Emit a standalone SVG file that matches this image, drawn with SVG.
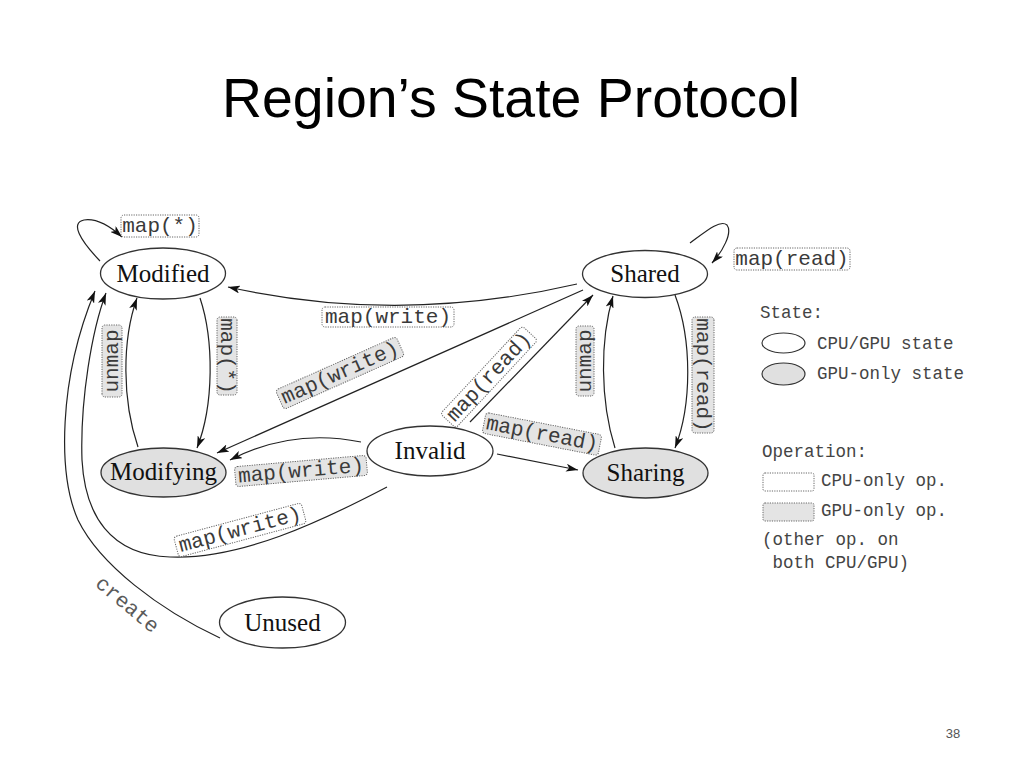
<svg xmlns="http://www.w3.org/2000/svg" width="1024" height="768" viewBox="0 0 1024 768">
<defs>
<style>
.node ellipse{stroke:#333;stroke-width:1.3}
.cpu{fill:#ffffff}
.gpu{fill:#e0e0e0}
.ntext{font-family:"Liberation Serif","Times New Roman",serif;font-size:25px;fill:#111;text-anchor:middle}
.edge{fill:none;stroke:#222;stroke-width:1.2;marker-end:url(#ah)}
.lbl rect{stroke:#666;stroke-width:1;stroke-dasharray:1.2,1.2}
.lw{fill:#ffffff}
.lg{fill:#e4e4e4}
.ltext{font-family:"Liberation Mono","Courier New",monospace;font-size:21px;fill:#3a3a3a;text-anchor:middle}
.ctext{font-family:"Liberation Mono","Courier New",monospace;font-size:21px;fill:#5a5a5a;text-anchor:middle}
.leg{font-family:"Liberation Mono","Courier New",monospace;font-size:17.5px;fill:#444}
</style>
<marker id="ah" viewBox="0 0 12 8" refX="12" refY="4" markerWidth="12" markerHeight="8" orient="auto" markerUnits="userSpaceOnUse">
<path d="M0,0 L12,4 L0,8 L3,4 z" fill="#111"/>
</marker>
</defs>
<rect width="1024" height="768" fill="#ffffff"/>
<text x="511" y="117" font-family="Liberation Sans, Arial, sans-serif" font-size="56" fill="#000" text-anchor="middle" textLength="578" lengthAdjust="spacingAndGlyphs">Region’s State Protocol</text>
<text x="953" y="738" font-family="Liberation Sans, Arial, sans-serif" font-size="13" fill="#555" text-anchor="middle">38</text>

<g id="connectors">
<path class="edge" d="M100,261 C80,240 70,223 84,220 C97,218 112,228 122,237"/>
<path class="edge" d="M690,243 C705,232 720,219 727,225 C733,233 722,252 712,263"/>
<path class="edge" d="M577,284 Q400,325 228,287"/>
<path class="edge" d="M583,290 L217,453"/>
<path class="edge" d="M470,422 L593,295"/>
<path class="edge" d="M361,442 Q292,428 230,460"/>
<path class="edge" d="M497,454 L578,470"/>
<path class="edge" d="M675,295 C692,340 692,405 675,448"/>
<path class="edge" d="M615,448 C600,400 600,340 613,296"/>
<path class="edge" d="M200,298 C214,340 214,405 197,448"/>
<path class="edge" d="M138,447 C122,400 122,340 137,298"/>
<path class="edge" d="M387,487 C320,522 240,560 170,557 C110,555 85,515 82,460 C80,400 92,330 106,293"/>
<path class="edge" d="M220,638 C160,610 100,565 78,520 C58,475 58,380 95,291"/>
</g>

<g id="labels">
<g class="lbl" transform="translate(160,226)"><rect class="lw" x="-39" y="-11" width="78" height="22" rx="3"/><text class="ltext" y="6">map(*)</text></g>
<g class="lbl" transform="translate(388,317)"><rect class="lw" x="-66" y="-10" width="132" height="20" rx="3"/><text class="ltext" y="6">map(write)</text></g>
<g class="lbl" transform="translate(340,373) rotate(-24)"><rect class="lg" x="-66" y="-10.5" width="132" height="21" rx="3"/><text class="ltext" y="6">map(write)</text></g>
<g class="lbl" transform="translate(489,377) rotate(-47)"><rect class="lw" x="-60" y="-10.5" width="120" height="21" rx="3"/><text class="ltext" y="6">map(read)</text></g>
<g class="lbl" transform="translate(301,471) rotate(-5)"><rect class="lg" x="-66" y="-10" width="132" height="20" rx="3"/><text class="ltext" y="6">map(write)</text></g>
<g class="lbl" transform="translate(542,434) rotate(11)"><rect class="lg" x="-59" y="-10.5" width="118" height="21" rx="3"/><text class="ltext" y="6">map(read)</text></g>
<g class="lbl" transform="translate(792,259)"><rect class="lw" x="-58" y="-11" width="116" height="22" rx="3"/><text class="ltext" y="6">map(read)</text></g>
<g class="lbl" transform="translate(585,361) rotate(-90)"><rect class="lg" x="-35" y="-9" width="70" height="18" rx="3"/><text class="ltext" y="6">unmap</text></g>
<g class="lbl" transform="translate(703,375) rotate(90)"><rect class="lg" x="-58" y="-11" width="116" height="22" rx="3"/><text class="ltext" y="6">map(read)</text></g>
<g class="lbl" transform="translate(227,356) rotate(90)"><rect class="lg" x="-39" y="-10" width="78" height="20" rx="3"/><text class="ltext" y="6">map(*)</text></g>
<g class="lbl" transform="translate(112,361) rotate(-90)"><rect class="lg" x="-36" y="-10" width="72" height="20" rx="3"/><text class="ltext" y="6">unmap</text></g>
<g class="lbl" transform="translate(240,530) rotate(-15)"><rect class="lw" x="-66" y="-10.5" width="132" height="21" rx="3"/><text class="ltext" y="6">map(write)</text></g>
<g transform="translate(127,605) rotate(40)"><text class="ctext" y="6">create</text></g>
</g>

<g id="node-modified" class="node"><ellipse class="cpu" cx="163" cy="273.5" rx="62.5" ry="25.5"/><text class="ntext" x="163" y="282">Modified</text></g>
<g id="node-shared" class="node"><ellipse class="cpu" cx="645" cy="274" rx="62.5" ry="23.5"/><text class="ntext" x="645" y="282">Shared</text></g>
<g id="node-invalid" class="node"><ellipse class="cpu" cx="430" cy="451" rx="63" ry="25"/><text class="ntext" x="430" y="459">Invalid</text></g>
<g id="node-modifying" class="node"><ellipse class="gpu" cx="163.5" cy="472.5" rx="62.5" ry="24.5"/><text class="ntext" x="163.5" y="480">Modifying</text></g>
<g id="node-sharing" class="node"><ellipse class="gpu" cx="645.5" cy="473" rx="62.5" ry="25"/><text class="ntext" x="645.5" y="481">Sharing</text></g>
<g id="node-unused" class="node"><ellipse class="cpu" cx="282.5" cy="622.5" rx="63" ry="25.5"/><text class="ntext" x="282.5" y="631">Unused</text></g>

<g id="legend">
<text class="leg" x="760" y="318">State:</text>
<ellipse cx="783.5" cy="343" rx="21.5" ry="10" fill="#fff" stroke="#333" stroke-width="1.2"/>
<text class="leg" x="817" y="349">CPU/GPU state</text>
<ellipse cx="783.5" cy="374" rx="21.5" ry="11" fill="#e0e0e0" stroke="#333" stroke-width="1.2"/>
<text class="leg" x="817" y="379">GPU-only state</text>
<text class="leg" x="762" y="457">Operation:</text>
<rect x="763" y="473" width="51" height="18" rx="2" fill="#fff" stroke="#666" stroke-width="1" stroke-dasharray="1.2,1.2"/>
<text class="leg" x="821" y="486">CPU-only op.</text>
<rect x="763" y="503" width="51" height="18" rx="2" fill="#e4e4e4" stroke="#666" stroke-width="1" stroke-dasharray="1.2,1.2"/>
<text class="leg" x="821" y="516">GPU-only op.</text>
<text class="leg" x="762" y="545">(other op. on</text>
<text class="leg" x="762" y="568" xml:space="preserve"> both CPU/GPU)</text>
</g>
</svg>
